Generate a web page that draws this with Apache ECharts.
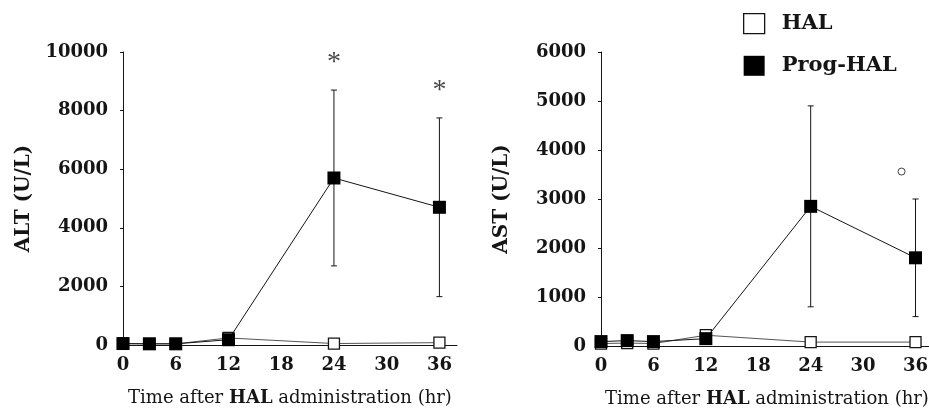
<!DOCTYPE html>
<html>
<head>
<meta charset="utf-8">
<script src="https://cdn.jsdelivr.net/npm/echarts@6/dist/echarts.min.js"></script>
<style>html,body{margin:0;padding:0;background:#fff;}#c{width:929px;height:408px;}</style>
</head>
<body>
<div id="c"></div>
<script>
// ---- data ----
var times = [0, 3, 6, 12, 24, 36];
var xTicks = [0, 6, 12, 18, 24, 30, 36];
var altHAL = [40, 40, 40, 240, 50, 80];
var altProg = [50, 40, 40, 180, 5700, 4700];
var altProgSD = [0, 0, 0, 0, 3000, 3050];
var astHAL = [50, 60, 50, 220, 80, 80];
var astProg = [90, 110, 90, 150, 2850, 1800];
var astProgSD = [0, 0, 0, 0, 2050, 1200];
var altSig = [[24, 9850, '*'], [36, 8880, '*']];
var astSig = [[34.4, 3560]];
var legendNames = ['HAL', 'Prog-HAL'];

var FONT = 'DejaVu Serif';
var INK = '#151515';

function pairs(xs, ys) { return xs.map(function (x, i) { return [x, ys[i]]; }); }
function errData(xs, ys, sd) {
  var out = [];
  xs.forEach(function (x, i) { if (sd[i] > 0) out.push([x, ys[i] - sd[i], ys[i] + sd[i]]); });
  return out;
}
function errSeries(idx, data) {
  return {
    type: 'custom', xAxisIndex: idx, yAxisIndex: idx, z: 1, silent: true,
    data: data,
    renderItem: function (params, api) {
      var x = api.value(0);
      var lo = api.coord([x, api.value(1)]);
      var hi = api.coord([x, api.value(2)]);
      var w = 3;
      var st = { stroke: INK, lineWidth: 1 };
      return { type: 'group', children: [
        { type: 'line', shape: { x1: lo[0], y1: lo[1], x2: hi[0], y2: hi[1] }, style: st },
        { type: 'line', shape: { x1: hi[0] - w, y1: hi[1], x2: hi[0] + w, y2: hi[1] }, style: st },
        { type: 'line', shape: { x1: lo[0] - w, y1: lo[1], x2: lo[0] + w, y2: lo[1] }, style: st }
      ]};
    }
  };
}
function xAxisCfg(idx) {
  return {
    type: 'value', gridIndex: idx, min: 0, max: 38, interval: 6,
    name: 'Time after {b|HAL} administration (hr)', nameLocation: 'middle', nameGap: 44,
    nameTextStyle: { fontFamily: FONT, fontSize: 18, color: INK,
      rich: { b: { fontFamily: FONT, fontSize: 18, fontWeight: 'bold', color: INK } } },
    axisLine: { show: true, lineStyle: { color: INK, width: 1 } },
    axisTick: { show: false },
    splitLine: { show: false },
    axisLabel: { fontFamily: FONT, fontWeight: 'bold', fontSize: 18, color: INK, margin: 11,
      formatter: function (v) { return xTicks.indexOf(v) >= 0 ? String(v) : ''; } }
  };
}
function yAxisCfg(idx, name, max, interval) {
  return {
    type: 'value', gridIndex: idx, min: 0, max: max, interval: interval,
    name: name, nameLocation: 'middle', nameGap: 89, nameRotate: 90,
    nameTextStyle: { fontFamily: FONT, fontWeight: 'bold', fontSize: 20, color: INK },
    axisLine: { show: true, lineStyle: { color: INK, width: 1 } },
    axisTick: { show: true, length: 3, lineStyle: { color: INK } },
    splitLine: { show: false },
    axisLabel: { fontFamily: FONT, fontWeight: 'bold', fontSize: 18, color: INK, margin: 15,
      formatter: function (v) { return String(v); } }
  };
}
function halSeries(idx, ys) {
  return { name: 'HAL', type: 'line', xAxisIndex: idx, yAxisIndex: idx, z: 2,
    data: pairs(times, ys), symbol: 'rect', symbolSize: 11,
    itemStyle: { color: '#fff', borderColor: INK, borderWidth: 1.3 },
    lineStyle: { color: '#555', width: 1 } };
}
function progSeries(idx, ys) {
  return { name: 'Prog-HAL', type: 'line', xAxisIndex: idx, yAxisIndex: idx, z: 3,
    data: pairs(times, ys), symbol: 'rect', symbolSize: 13,
    itemStyle: { color: '#000', borderColor: '#000', borderWidth: 0 },
    lineStyle: { color: INK, width: 1 } };
}

var chart = echarts.init(document.getElementById('c'));
chart.setOption({
  backgroundColor: '#fff',
  animation: false,
  grid: [
    { left: 123, top: 52, width: 334, height: 293, outerBoundsMode: 'none', containLabel: false },
    { left: 601, top: 52, width: 332, height: 294, outerBoundsMode: 'none', containLabel: false }
  ],
  xAxis: [xAxisCfg(0), xAxisCfg(1)],
  yAxis: [yAxisCfg(0, 'ALT (U/L)', 10000, 2000), yAxisCfg(1, 'AST (U/L)', 6000, 1000)],
  legend: {
    orient: 'vertical', left: 743, top: 13, padding: 0, itemWidth: 21, itemHeight: 20, itemGap: 21,
    icon: 'rect',
    textStyle: { fontFamily: FONT, fontWeight: 'bold', fontSize: 21, color: INK, padding: [0, 0, 0, 12] },
    data: [
      { name: legendNames[0], itemStyle: { color: '#fff', borderColor: INK, borderWidth: 1.3 } },
      { name: legendNames[1], itemStyle: { color: '#000', borderWidth: 0 } }
    ]
  },
  series: [
    errSeries(0, errData(times, altProg, altProgSD)),
    errSeries(1, errData(times, astProg, astProgSD)),
    halSeries(0, altHAL), progSeries(0, altProg),
    halSeries(1, astHAL), progSeries(1, astProg),
    { type: 'scatter', xAxisIndex: 0, yAxisIndex: 0, silent: true, symbolSize: 1,
      itemStyle: { color: 'rgba(0,0,0,0)' },
      data: altSig,
      label: { show: true, position: 'inside', formatter: function (p) { return p.value[2]; },
        fontFamily: 'Liberation Serif', fontSize: 28, color: INK, offset: [0, 6] } },
    { type: 'scatter', xAxisIndex: 1, yAxisIndex: 1, silent: true, symbol: 'circle', symbolSize: 7,
      itemStyle: { color: '#fff', borderColor: INK, borderWidth: 1 },
      data: astSig }
  ]
});
</script>
</body>
</html>
